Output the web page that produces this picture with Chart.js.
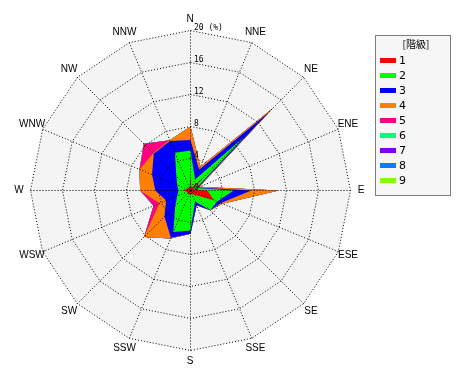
<!DOCTYPE html>
<html>
<head>
<meta charset="utf-8">
<style>html,body{margin:0;padding:0;background:#fff}canvas{display:block}</style>
<script src="https://cdn.jsdelivr.net/npm/chart.js"></script>
</head>
<body>
<canvas id="c" width="470" height="380"></canvas>
<script>
// ---- data (percent frequency per direction, per class) ----
const directions = ['N','NNE','NE','ENE','E','ESE','SE','SSE','S','SSW','SW','WSW','W','WNW','NW','NNW'];
const class1 = [2.0,0.3,2.5,0.3,2.1,3.2,0.8,0.5,0.5,0.5,0.5,0.4,1.0,0.5,0.4,0.3];
const class2 = [3.0,1.2,7.2,0.5,3.3,0.4,2.7,1.0,4.5,5.1,2.2,1.4,0.5,1.3,2.1,4.8];
const class3 = [1.3,1.3,4.1,0.2,2.2,0.5,0.0,0.5,0.4,0.8,1.9,1.5,2.9,3.4,4.0,1.6];
const class4 = [1.7,0.4,0.8,0.2,3.4,0.2,0.0,0.0,0.0,0.1,3.6,0.9,1.9,1.7,0.1,0.1];
const class5 = [0,0,0,0,0,0,0,0,0,0,0,0.8,0,0,1.65,0];
const class6 = [0,0,0,0,0,0,0,0,0,0,0,0,0,0,0,0];
const class7 = [0,0,0,0,0,0,0,0,0,0,0,0,0,0,0,0];
const class8 = [0,0,0,0,0,0,0,0,0,0,0,0,0,0,0,0];
const class9 = [0,0,0,0,0,0,0,0,0,0,0,0,0,0,0,0];
const classLabels = ['1','2','3','4','5','6','7','8','9'];
const tickValues = [0,4,8,12,16,20];
const legendTitle = '[階級]';

// ---- styles ----
const classColors = ['#ff0000','#00ff00','#0000ff','#ff8000','#ff0080','#00ff80','#8000ff','#0080ff','#80ff00'];

// stacked (cumulative) series
const classes = [class1,class2,class3,class4,class5,class6,class7,class8,class9];
const cumulative = [];
classes.forEach((arr, k) => {
  cumulative.push(arr.map((v, i) => v + (k > 0 ? cumulative[k-1][i] : 0)));
});

const datasets = classes.map((arr, k) => ({
  label: classLabels[k],
  data: cumulative[k],
  backgroundColor: classColors[k],
  borderColor: 'rgba(0,0,0,0)',
  borderWidth: 0,
  pointRadius: 0,
  fill: 'origin'
}));

const bgPlugin = {
  id: 'polarBg',
  beforeDraw(chart) {
    chart.ctx.save();
    chart.ctx.translate(0.5, 0.5);
  },
  beforeDatasetsDraw(chart) {
    const s = chart.scales.r, ctx = chart.ctx;
    ctx.save();
    ctx.beginPath();
    for (let i = 0; i < directions.length; i++) {
      const p = s.getPointPosition(i, s.drawingArea);
      if (i === 0) ctx.moveTo(p.x, p.y); else ctx.lineTo(p.x, p.y);
    }
    ctx.closePath();
    ctx.fillStyle = '#f4f4f4';
    ctx.fill();
    ctx.restore();
  },
  afterDraw(chart) {
    chart.ctx.restore();
  }
};

const labelPlugin = {
  id: 'labels',
  afterDraw(chart) {
    const s = chart.scales.r, ctx = chart.ctx;
    ctx.save();
    // direction labels
    ctx.fillStyle = '#000';
    ctx.font = '10px "Liberation Sans Narrow", "Liberation Sans", sans-serif';
    ctx.textAlign = 'center';
    ctx.textBaseline = 'middle';
    chart.data.labels.forEach((lab, i) => {
      const p = s.getPointPosition(i, s.drawingArea + 11);
      ctx.fillText(lab, p.x, p.y);
    });
    // tick labels
    ctx.font = '8px "DejaVu Sans Mono", monospace';
    ctx.textAlign = 'left';
    ctx.textBaseline = 'alphabetic';
    tickValues.forEach(v => {
      const y = s.yCenter - s.getDistanceFromCenterForValue(v);
      ctx.fillText(v === 20 ? '20 (%)' : String(v), s.xCenter + 4, y);
    });
    ctx.restore();
  }
};

const legendPlugin = {
  id: 'customLegend',
  afterDraw(chart) {
    const ctx = chart.ctx;
    const x0 = 375.5, y0 = 35.5, w = 75, h = 160;
    ctx.save();
    ctx.fillStyle = '#f6f6f6';
    ctx.fillRect(x0, y0, w, h);
    ctx.strokeStyle = '#000';
    ctx.lineWidth = 1;
    ctx.setLineDash([1,1]);
    ctx.strokeRect(x0, y0, w, h);
    ctx.setLineDash([]);
    ctx.fillStyle = '#000';
    ctx.font = '10px "Noto Sans CJK JP", sans-serif';
    ctx.textAlign = 'center';
    ctx.textBaseline = 'middle';
    ctx.fillText(legendTitle, 416, 44);
    ctx.font = '11px "DejaVu Sans", sans-serif';
    ctx.textAlign = 'left';
    chart.data.datasets.forEach((ds, i) => {
      const yc = 60 + 15 * i;
      ctx.fillStyle = ds.backgroundColor;
      ctx.fillRect(380, yc - 2, 16, 5);
      ctx.fillStyle = '#000';
      ctx.fillText(ds.label, 399, yc + 1);
    });
    ctx.restore();
  }
};

new Chart(document.getElementById('c'), {
  type: 'radar',
  data: { labels: directions, datasets: datasets },
  options: {
    responsive: false,
    animation: false,
    devicePixelRatio: 1,
    layout: { padding: { top: 30, bottom: 30, left: 0, right: 90 } },
    plugins: { legend: { display: false }, tooltip: { enabled: false } },
    elements: { line: { borderWidth: 0, tension: 0 }, point: { radius: 0 } },
    scales: {
      r: {
        min: 0, max: 20,
        ticks: { stepSize: 4, display: false },
        pointLabels: { display: false },
        grid: { color: '#000', lineWidth: 1, z: 1 },
        border: { dash: [1, 2] },
        angleLines: { color: '#000', lineWidth: 1, borderDash: [1, 2] }
      }
    }
  },
  plugins: [bgPlugin, labelPlugin, legendPlugin]
});
</script>
</body>
</html>
